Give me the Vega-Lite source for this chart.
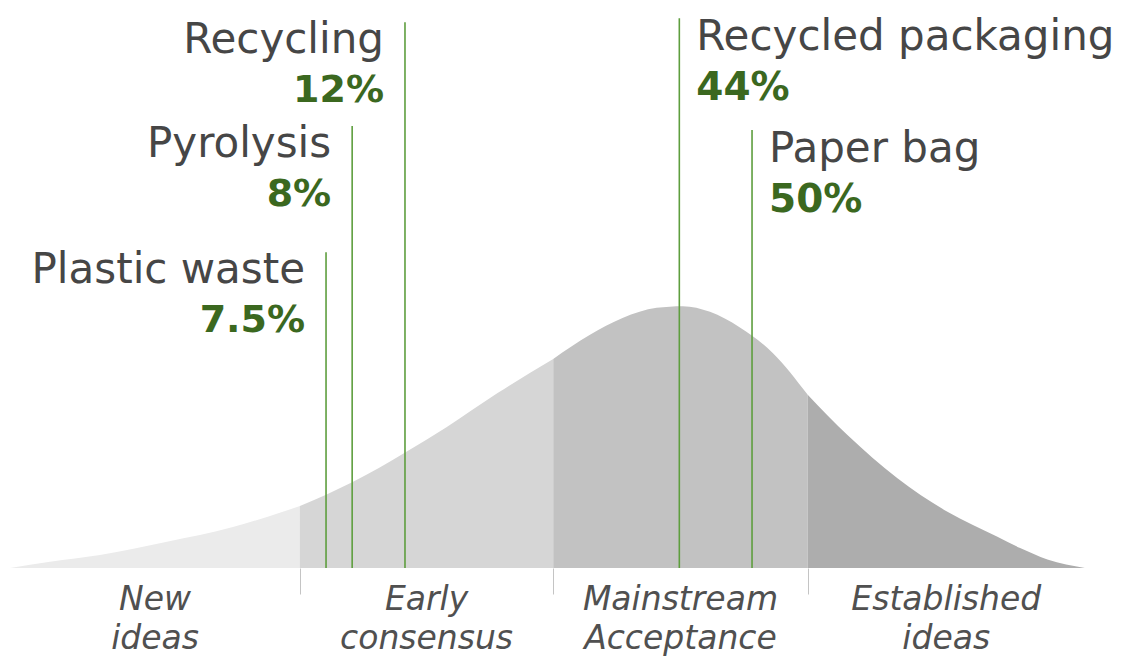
{
  "$schema": "https://vega.github.io/schema/vega-lite/v6.json",
  "width": 1136,
  "height": 568,
  "autosize": {"type": "none"},
  "padding": {"left": 0, "top": 0, "right": 0, "bottom": 88},
  "background": "white",
  "config": {
    "view": {"stroke": null},
    "font": "DejaVu Sans"
  },
  "datasets": {
    "curve": [
      {"stage": "New ideas", "x": 0.9, "y": 0},
      {"stage": "New ideas", "x": 4.4, "y": 1.1},
      {"stage": "New ideas", "x": 8.8, "y": 2.3},
      {"stage": "New ideas", "x": 14.7, "y": 4.6},
      {"stage": "New ideas", "x": 20.5, "y": 7.2},
      {"stage": "New ideas", "x": 23.5, "y": 9.0},
      {"stage": "New ideas", "x": 26.4, "y": 10.9},
      {"stage": "Early consensus", "x": 26.4, "y": 10.9},
      {"stage": "Early consensus", "x": 28.8, "y": 13.0},
      {"stage": "Early consensus", "x": 31.0, "y": 15.1},
      {"stage": "Early consensus", "x": 35.7, "y": 20.4},
      {"stage": "Early consensus", "x": 39.3, "y": 24.8},
      {"stage": "Early consensus", "x": 43.8, "y": 30.8},
      {"stage": "Early consensus", "x": 48.7, "y": 36.8},
      {"stage": "Mainstream Acceptance", "x": 48.7, "y": 36.8},
      {"stage": "Mainstream Acceptance", "x": 51.9, "y": 41.0},
      {"stage": "Mainstream Acceptance", "x": 54.8, "y": 44.0},
      {"stage": "Mainstream Acceptance", "x": 57.8, "y": 45.8},
      {"stage": "Mainstream Acceptance", "x": 60.1, "y": 46.1},
      {"stage": "Mainstream Acceptance", "x": 62.5, "y": 45.1},
      {"stage": "Mainstream Acceptance", "x": 65.1, "y": 42.4},
      {"stage": "Mainstream Acceptance", "x": 68.0, "y": 37.9},
      {"stage": "Mainstream Acceptance", "x": 71.1, "y": 30.5},
      {"stage": "Established ideas", "x": 71.1, "y": 30.5},
      {"stage": "Established ideas", "x": 74.6, "y": 23.4},
      {"stage": "Established ideas", "x": 79.0, "y": 15.8},
      {"stage": "Established ideas", "x": 83.4, "y": 9.9},
      {"stage": "Established ideas", "x": 87.8, "y": 5.5},
      {"stage": "Established ideas", "x": 89.8, "y": 3.5},
      {"stage": "Established ideas", "x": 92.2, "y": 1.5},
      {"stage": "Established ideas", "x": 95.5, "y": 0}
    ],
    "stages": [
      {"stage": "New ideas", "label": "New\nideas", "start": 0.9, "end": 26.4},
      {"stage": "Early consensus", "label": "Early\nconsensus", "start": 26.4, "end": 48.7},
      {"stage": "Mainstream Acceptance", "label": "Mainstream\nAcceptance", "start": 48.7, "end": 71.1},
      {"stage": "Established ideas", "label": "Established\nideas", "start": 71.1, "end": 95.5}
    ],
    "items": [
      {"item": "Plastic waste", "pos": 28.7, "share": 7.5, "top": 55.6},
      {"item": "Pyrolysis", "pos": 31.0, "share": 8, "top": 77.8},
      {"item": "Recycling", "pos": 35.65, "share": 12, "top": 96.1},
      {"item": "Recycled packaging", "pos": 59.8, "share": 44, "top": 96.8},
      {"item": "Paper bag", "pos": 66.2, "share": 50, "top": 77.1}
    ]
  },
  "layer": [
    {
      "data": {"name": "curve"},
      "mark": {"type": "area", "interpolate": "monotone"},
      "encoding": {
        "x": {
          "field": "x", "type": "quantitative",
          "scale": {"domain": [0, 100], "nice": false, "zero": false},
          "axis": {
            "values": [26.4, 48.7, 71.1],
            "labels": false, "domain": false, "grid": false, "title": null,
            "ticks": true, "tickSize": 26, "tickColor": "#c4c4c4", "tickWidth": 1
          }
        },
        "y": {
          "field": "y", "type": "quantitative", "stack": null,
          "scale": {"domain": [0, 100], "nice": false},
          "axis": null
        },
        "color": {
          "field": "stage", "type": "nominal", "legend": null,
          "scale": {
            "domain": ["New ideas", "Early consensus", "Mainstream Acceptance", "Established ideas"],
            "range": ["#ebebeb", "#d6d6d6", "#c2c2c2", "#adadad"]
          }
        }
      }
    },
    {
      "data": {"name": "items"},
      "mark": {"type": "rule", "color": "#5e9e3e", "strokeWidth": 1.6},
      "encoding": {
        "x": {"field": "pos", "type": "quantitative"},
        "y": {"field": "top", "type": "quantitative"},
        "y2": {"datum": 0}
      }
    },
    {
      "data": {"name": "items"},
      "transform": [{"filter": "datum.pos < 50"}],
      "mark": {"type": "text", "align": "right", "baseline": "middle", "dx": -21, "dy": 18, "fontSize": 42, "color": "#464646"},
      "encoding": {
        "x": {"field": "pos", "type": "quantitative"},
        "y": {"field": "top", "type": "quantitative"},
        "text": {"field": "item"}
      }
    },
    {
      "data": {"name": "items"},
      "transform": [{"filter": "datum.pos >= 50"}],
      "mark": {"type": "text", "align": "left", "baseline": "middle", "dx": 17, "dy": 19, "fontSize": 42, "color": "#464646"},
      "encoding": {
        "x": {"field": "pos", "type": "quantitative"},
        "y": {"field": "top", "type": "quantitative"},
        "text": {"field": "item"}
      }
    },
    {
      "data": {"name": "items"},
      "transform": [
        {"filter": "datum.pos < 50"},
        {"calculate": "datum.share + '%'", "as": "shareLabel"}
      ],
      "mark": {"type": "text", "align": "right", "baseline": "middle", "dx": -21, "dy": 69, "fontSize": 38, "fontWeight": "bold", "color": "#3b681f"},
      "encoding": {
        "x": {"field": "pos", "type": "quantitative"},
        "y": {"field": "top", "type": "quantitative"},
        "text": {"field": "shareLabel"}
      }
    },
    {
      "data": {"name": "items"},
      "transform": [
        {"filter": "datum.pos >= 50"},
        {"calculate": "datum.share + '%'", "as": "shareLabel"}
      ],
      "mark": {"type": "text", "align": "left", "baseline": "middle", "dx": 17, "dy": 70, "fontSize": 39, "fontWeight": "bold", "color": "#3b681f"},
      "encoding": {
        "x": {"field": "pos", "type": "quantitative"},
        "y": {"field": "top", "type": "quantitative"},
        "text": {"field": "shareLabel"}
      }
    },
    {
      "data": {"name": "stages"},
      "transform": [{"calculate": "(datum.start + datum.end) / 2", "as": "mid"}],
      "mark": {"type": "text", "align": "center", "baseline": "alphabetic", "dy": 42, "lineBreak": "\n", "lineHeight": 39, "fontSize": 33, "fontStyle": "italic", "color": "#505050"},
      "encoding": {
        "x": {"field": "mid", "type": "quantitative"},
        "y": {"datum": 0},
        "text": {"field": "label"}
      }
    }
  ]
}
